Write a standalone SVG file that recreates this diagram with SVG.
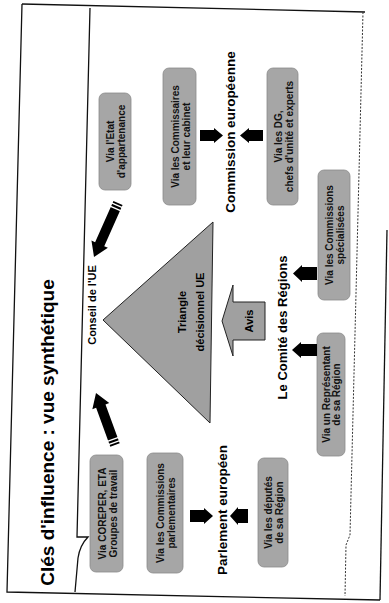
<svg xmlns="http://www.w3.org/2000/svg" width="389" height="603" viewBox="0 0 389 603">
<style>
.box{fill:#a6a6a6;stroke:#8a8a8a;stroke-width:0.8}
.bt{font-family:"Liberation Sans",Arial,sans-serif;font-size:10px;font-weight:bold;fill:#111;text-anchor:middle}
.lbl{font-family:"Liberation Sans",Arial,sans-serif;font-weight:bold;fill:#000;text-anchor:middle}
.frame{fill:none;stroke:#111;stroke-width:1.3}
.dot{fill:none;stroke:#333;stroke-width:1;stroke-dasharray:2 1.5}
.arr{fill:#000}
.stripe{stroke:#fff;stroke-width:1.4}
</style>
<rect width="389" height="603" fill="#fff"/>
<g id="frame">
<path class="frame" d="M22,4 L365,12"/>
<path class="frame" d="M22,4 L7,592 L380,600"/>
<path class="frame" d="M90,8 L77,537 L88,537 Q80,545 78,558 L75,592"/>
<path class="dot" d="M363,12 L350,535 L346,545 L345,596"/>
<path class="frame" d="M387,230 L380,600"/>
</g>
<text class="lbl" style="font-size:19px" transform="translate(54,432.5) rotate(-90)">Clés d'influence : vue synthétique</text>
<g id="triangle">
<polygon points="103,320 213,222 210,423" fill="#a0a0a0" stroke="#222" stroke-width="1"/>
<text class="lbl" style="font-size:11px" transform="translate(186,312) rotate(-90)">Triangle</text>
<text class="lbl" style="font-size:11px" transform="translate(204,312) rotate(-90)">décisionnel UE</text>
</g>
<g id="conseil"><text class="lbl" style="font-size:11px" transform="translate(96,305) rotate(-90)">Conseil de l'UE</text></g>
<g id="commission"><text class="lbl" style="font-size:13.5px" transform="translate(234.5,132) rotate(-90)">Commission européenne</text></g>
<g id="comite"><text class="lbl" style="font-size:13px" transform="translate(286.5,327.5) rotate(-90)">Le Comité des Régions</text></g>
<g id="parlement"><text class="lbl" style="font-size:13.5px" transform="translate(227,510) rotate(-90)">Parlement européen</text></g>
<g id="avis">
<polygon points="222,321 233,285 233,302 265,302 265,340 233,340 233,356" fill="#a0a0a0" stroke="#222" stroke-width="1"/>
<text class="lbl" style="font-size:11px" transform="translate(253,321) rotate(-90)">Avis</text>
</g>
<g id="b-etat"><rect class="box" x="99" y="93" width="32" height="97" rx="6"/>
<text class="bt" transform="translate(115,141.5) rotate(-90)"><tspan x="0" y="-1">Via l'Etat</tspan><tspan x="0" y="10">d'appartenance</tspan></text></g>
<g id="b-commissaires"><rect class="box" x="163" y="68" width="33" height="137" rx="6"/>
<text class="bt" transform="translate(179.5,136.5) rotate(-90)"><tspan x="0" y="-1">Via les Commissaires</tspan><tspan x="0" y="10">et leur cabinet</tspan></text></g>
<g id="b-dg"><rect class="box" x="267" y="68" width="31" height="137" rx="6"/>
<text class="bt" transform="translate(282.5,136.5) rotate(-90)"><tspan x="0" y="-1">Via les DG,</tspan><tspan x="0" y="10">chefs d'unité et experts</tspan></text></g>
<g id="b-cspec"><rect class="box" x="318" y="170" width="32" height="130" rx="6"/>
<text class="bt" transform="translate(334,235) rotate(-90)"><tspan x="0" y="-1">Via les Commissions</tspan><tspan x="0" y="10">spécialisées</tspan></text></g>
<g id="b-repr"><rect class="box" x="317" y="333" width="28" height="123" rx="6"/>
<text class="bt" transform="translate(331,394.5) rotate(-90)"><tspan x="0" y="-1.5">Via un Représentant</tspan><tspan x="0" y="8.5">de sa Région</tspan></text></g>
<g id="b-coreper"><rect class="box" x="90" y="455" width="33" height="117" rx="6"/>
<text class="bt" transform="translate(106.5,513.5) rotate(-90)"><tspan x="0" y="-1">Via COREPER, ETA</tspan><tspan x="0" y="10">Groupes de travail</tspan></text></g>
<g id="b-cparl"><rect class="box" x="147" y="453" width="36" height="120" rx="6"/>
<text class="bt" transform="translate(165,513) rotate(-90)"><tspan x="0" y="-1">Via les Commissions</tspan><tspan x="0" y="10">parlementaires</tspan></text></g>
<g id="b-deputes"><rect class="box" x="258" y="458" width="30" height="109" rx="6"/>
<text class="bt" transform="translate(273,512.5) rotate(-90)"><tspan x="0" y="-1">Via les députés</tspan><tspan x="0" y="10">de sa Région</tspan></text></g>
<g id="connectors">
<polygon class="arr" points="200,130 214,130 214,128 223,135.5 214,143 214,141 200,141"/>
<polygon class="arr" points="263,130 249,130 249,128 240,135.5 249,143 249,141 263,141"/>
<polygon class="arr" points="317,267 302,267 302,265 293,273.5 302,282 302,280 317,280"/>
<polygon class="arr" points="317,344 301,344 301,342 292,350 301,358 301,356 317,356"/>
<polygon class="arr" points="190,510 204,510 204,508 213,516 204,524 204,522 190,522"/>
<polygon class="arr" points="248,509 238,509 238,507 230,516 238,525 238,523 248,523"/>
<polygon class="arr" points="122.57,205.03 104.25,246.23 107.91,247.85 94,257 91.45,240.55 95.11,242.17 113.43,200.97"/>
<line class="stripe" x1="122.47" y1="207.72" x2="111.5" y2="202.85"/>
<line class="stripe" x1="121.05" y1="210.92" x2="110.08" y2="206.05"/>
<polygon class="arr" points="119.7,443.29 105.5,404.44 109.25,403.06 96,393 92.35,409.24 96.11,407.87 110.3,446.72"/>
<line class="stripe" x1="119.77" y1="440.59" x2="108.51" y2="444.71"/>
<line class="stripe" x1="118.57" y1="437.31" x2="107.31" y2="441.43"/>
</g>
</svg>
